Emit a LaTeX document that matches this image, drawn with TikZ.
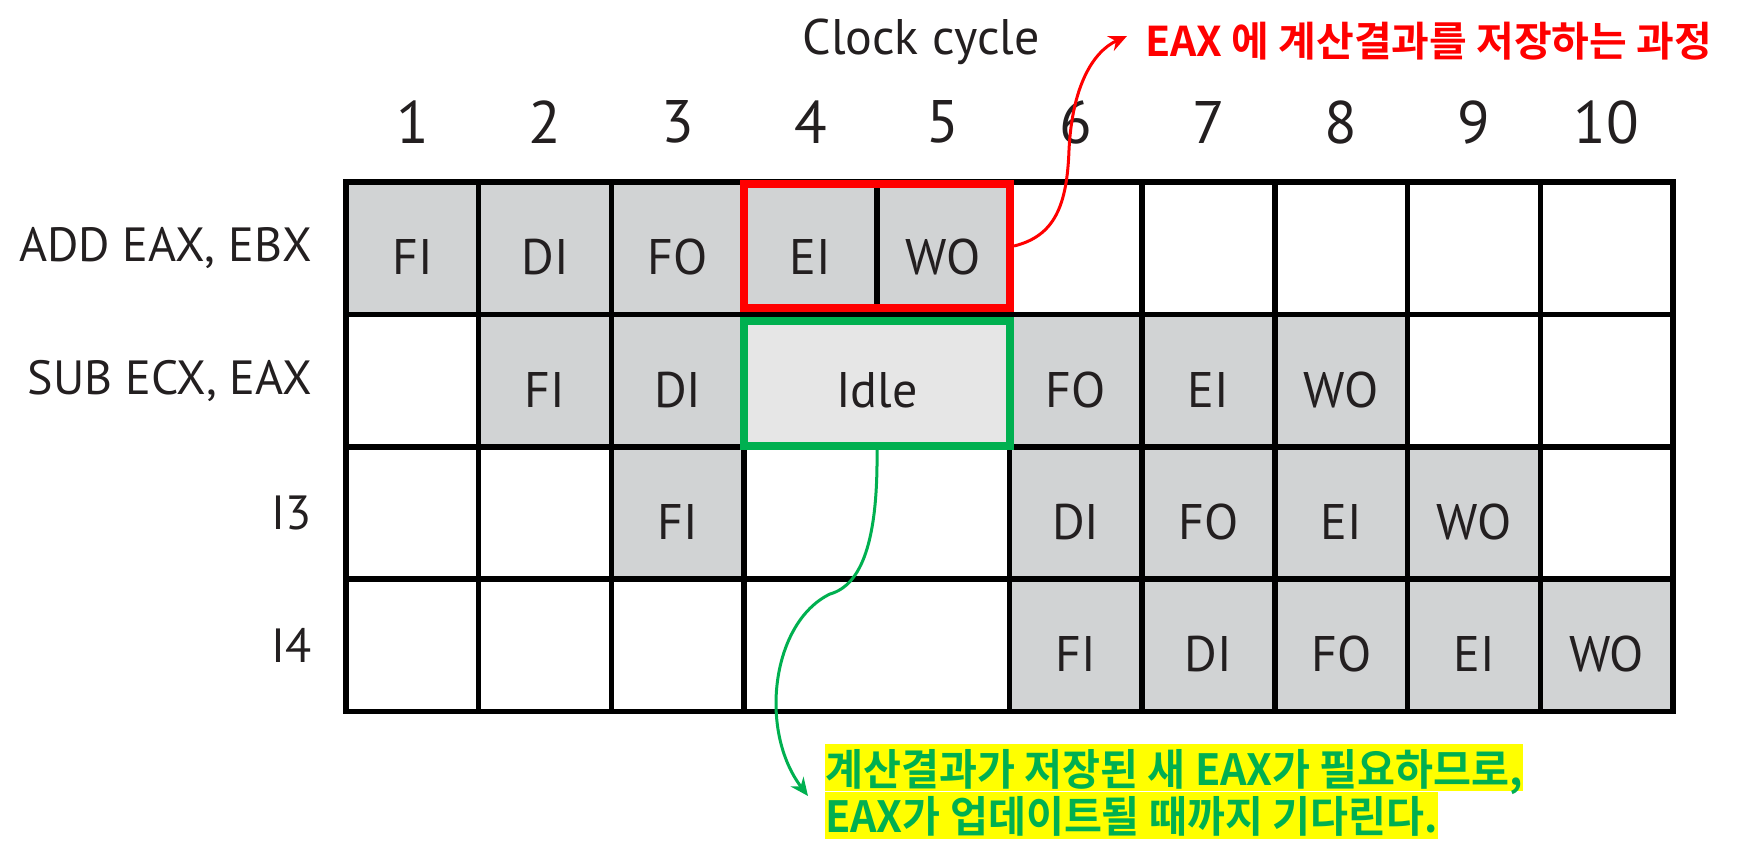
\documentclass[tikz,border=0pt]{standalone}
\usepackage{fontspec}
\setmainfont{PT Sans}
\newfontfamily\krbold{Noto Sans CJK KR}[UprightFont=* Bold]
\newfontfamily\krnarrow{Noto Sans CJK KR}[UprightFont=* Bold,FakeStretch=0.96]
\usetikzlibrary{arrows.meta}
\definecolor{cellgray}{RGB}{209,211,212}
\definecolor{idlegray}{RGB}{230,230,230}
\definecolor{inkgray}{RGB}{35,31,32}
\definecolor{hlred}{RGB}{255,0,0}
\definecolor{hlgreen}{RGB}{0,176,80}
\definecolor{hlyellow}{RGB}{255,255,0}
\tikzset{
  cell/.style={draw=black,line width=5.5pt,minimum width=132.7pt,minimum height=132.4pt,
    inner sep=0pt,text=inkgray,font=\fontsize{50}{50}\selectfont,text height=53pt,text depth=0pt},
  wide/.style={minimum width=265.4pt},
  rowlab/.style={anchor=east,inner sep=0pt,text=inkgray,font=\fontsize{48}{48}\selectfont},
  numlab/.style={inner sep=0pt,text=inkgray,font=\fontsize{60}{60}\selectfont},
  markbox/.style={line width=8pt,minimum width=266pt,inner sep=0pt},
  callout/.style={line width=3pt,-{Stealth[length=18pt,width=16pt]}},
  waitline/.style={anchor=north west,fill=hlyellow,inner sep=0pt,text height=41pt,text depth=6pt,
    text=hlgreen,font=\krnarrow\fontsize{43}{43}\selectfont}
}
\begin{document}
\begin{tikzpicture}[x=1pt,y=-1pt]
    \useasboundingbox (0,0) rectangle (1743,859);
    % heading and cycle numbers
    \node[numlab,font=\fontsize{50}{50}\selectfont] (clock) at (921,42) {Clock cycle};
    \foreach \c in {1,...,10}
        \node[numlab] (n\c) at ({346+132.7*(\c-0.5)},122) {\c};
    % instruction names
    \node[rowlab] (add) at (312,248) {ADD EAX, EBX};
    \node[rowlab] (sub) at (312,381) {SUB ECX, EAX};
    \node[rowlab] (ithree) at (312,513) {I3};
    \node[rowlab] (ifour) at (312,645) {I4};
    % pipeline table
    \foreach \c/\t/\f in {1/FI/cellgray,2/DI/cellgray,3/FO/cellgray,4/EI/cellgray,5/WO/cellgray,
                          6//white,7//white,8//white,9//white,10//white}
        \node[cell,fill=\f] (a\c) at ({346+132.7*(\c-0.5)},248.2) {\t};
    \foreach \c/\t/\f in {1//white,2/FI/cellgray,3/DI/cellgray,6/FO/cellgray,7/EI/cellgray,
                          8/WO/cellgray,9//white,10//white}
        \node[cell,fill=\f] (b\c) at ({346+132.7*(\c-0.5)},380.6) {\t};
    \node[cell,wide,fill=idlegray] (idle) at (876.8,380.6) {Idle};
    \foreach \c/\t/\f in {1//white,2//white,3/FI/cellgray,6/DI/cellgray,7/FO/cellgray,
                          8/EI/cellgray,9/WO/cellgray,10//white}
        \node[cell,fill=\f] (c\c) at ({346+132.7*(\c-0.5)},513) {\t};
    \node[cell,wide,fill=white] (cgap) at (876.8,513) {};
    \foreach \c/\t/\f in {1//white,2//white,3//white,6/FI/cellgray,7/DI/cellgray,
                          8/FO/cellgray,9/EI/cellgray,10/WO/cellgray}
        \node[cell,fill=\f] (d\c) at ({346+132.7*(\c-0.5)},645.4) {\t};
    \node[cell,wide,fill=white] (dgap) at (876.8,645.4) {};
    % highlighted blocks
    \node[markbox,draw=hlred,minimum height=124pt] (store) at (877,246) {};
    \node[markbox,draw=hlgreen,minimum height=125pt] (wait) at (877,383.5) {};
    % notes
    \node[anchor=west,inner sep=0pt,text=hlred,font=\krbold\fontsize{41}{41}\selectfont]
        (storenote) at (1145,41) {EAX 에 계산결과를 저장하는 과정};
    \node[waitline] (waitA) at (825,744) {계산결과가 저장된 새 EAX가 필요하므로,};
    \node[waitline] (waitB) at (waitA.south west) {EAX가 업데이트될 때까지 기다린다.};
    \coordinate (redtip) at (1127,36);
    \coordinate (greentip) at (808,796);
    \draw[callout,hlred] (store.east) .. controls (1055,236) and (1067,205) .. (1069,150)
        .. controls (1072,88) and (1092,52) .. (redtip);
    \draw[callout,hlgreen] (wait.south) .. controls (878,540) and (862,585) .. (830,594)
        .. controls (772,622) and (758,730) .. (greentip);
\end{tikzpicture}
\end{document}
